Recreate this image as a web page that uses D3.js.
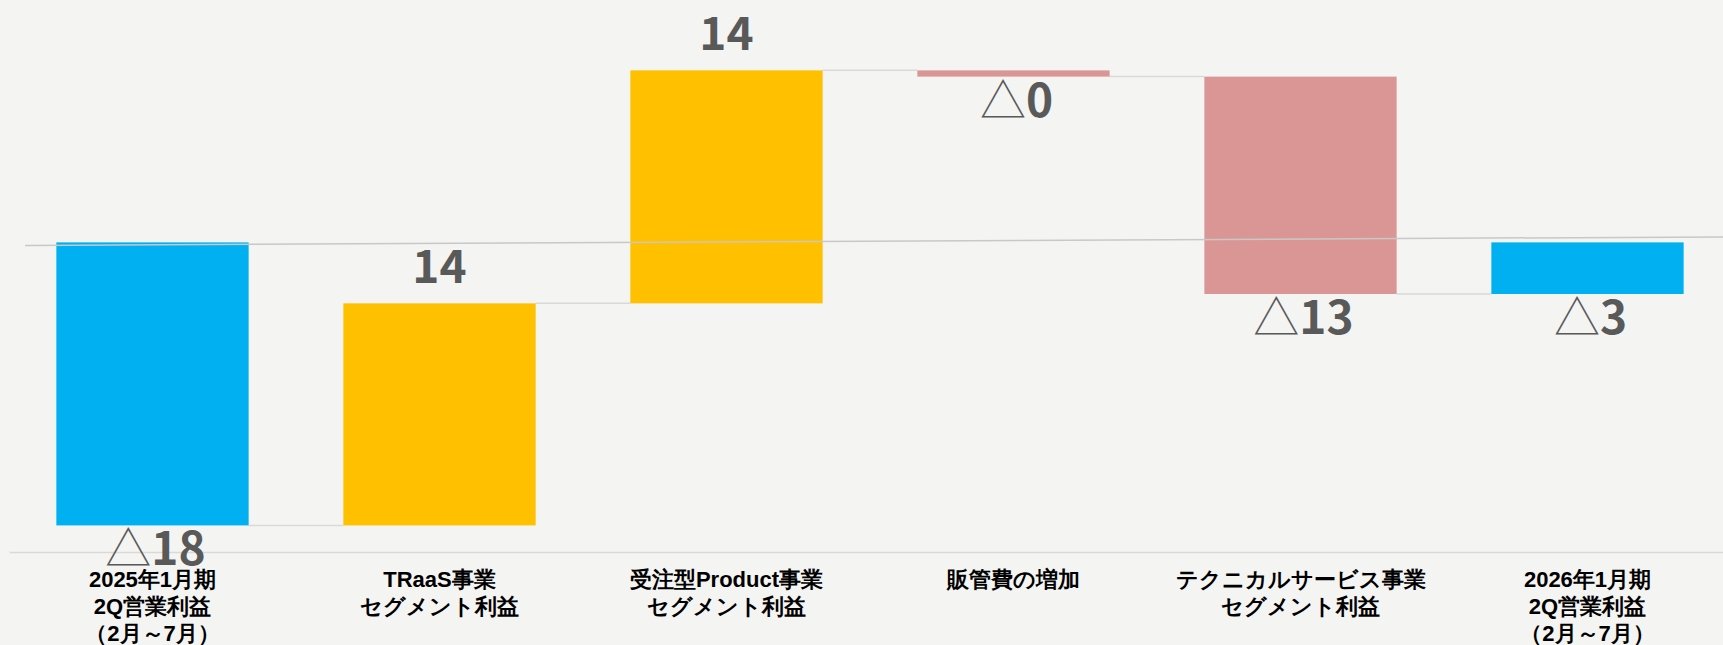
<!DOCTYPE html>
<html><head><meta charset="utf-8">
<script src="https://cdn.jsdelivr.net/npm/d3@7"></script>
<style>
html,body{margin:0;padding:0;background:#F4F4F2;}
svg{display:block;}
</style></head>
<body><div id="chart"></div>
<script>
// ---- data ----
const categories = [
  "2025年1月期\n2Q営業利益\n（2月～7月）",
  "TRaaS事業\nセグメント利益",
  "受注型Product事業\nセグメント利益",
  "販管費の増加",
  "テクニカルサービス事業\nセグメント利益",
  "2026年1月期\n2Q営業利益\n（2月～7月）"
];
const values = [-18.1, 14.2, 14.9, -0.4, -13.9, -3.3];
const kinds = ["total", "delta", "delta", "delta", "delta", "total"];
const valueLabels = ["△18", "14", "14", "△0", "△13", "△3"];

// ---- layout ----
const W = 1723, H = 645;
const colors = {total: "#00B0F0", up: "#FFC000", down: "#DA9694"};

const svg = d3.select("#chart").append("svg").attr("width", W).attr("height", H)
  .style("font-family", "'Noto Sans CJK JP','Noto Sans',sans-serif");
svg.append("rect").attr("width", W).attr("height", H).attr("fill", "#F4F4F2");

const x = d3.scaleBand().domain(categories).range([9, 1731]).paddingInner(0.33).paddingOuter(0.165);
const y = d3.scaleLinear().domain([-19.8, 15.5]).range([552, 0]);

// compute waterfall segments
let run = 0;
const bars = categories.map((c, i) => {
  let y0, y1;
  if (kinds[i] === "total") { y0 = 0; y1 = values[i]; run = values[i]; }
  else { y0 = run; y1 = run + values[i]; run = y1; }
  const color = kinds[i] === "total" ? colors.total : (values[i] >= 0 ? colors.up : colors.down);
  return {c, i, y0, y1, end: run, color, label: valueLabels[i], v: values[i]};
});

// connectors
const conn = svg.append("g");
bars.slice(0, -1).forEach((b, i) => {
  const nb = bars[i + 1];
  conn.append("line")
    .attr("x1", x(b.c) + x.bandwidth()).attr("x2", x(nb.c))
    .attr("y1", y(b.end)).attr("y2", y(b.end))
    .attr("stroke", "#D9D9D9").attr("stroke-width", 1.5);
});

// bars
svg.append("g").selectAll("rect").data(bars).join("rect")
  .attr("x", d => x(d.c))
  .attr("width", x.bandwidth())
  .attr("y", d => y(Math.max(d.y0, d.y1)))
  .attr("height", d => Math.abs(y(d.y0) - y(d.y1)))
  .attr("fill", d => d.color);

// slightly tilted zero reference line (drawn over bars)
svg.append("line")
  .attr("x1", 25).attr("x2", W)
  .attr("y1", y(0) + 3).attr("y2", y(0) - 5.5)
  .attr("stroke", "#C8C8C8").attr("stroke-width", 1.5);

// x axis
const ax = svg.append("g").attr("transform", `translate(0,${y(-19.8)})`)
  .call(d3.axisBottom(x).tickSize(0).tickFormat(""));
ax.select(".domain").attr("stroke", "#D9D9D9").attr("stroke-width", 1.5);
ax.selectAll(".tick text").remove();
ax.selectAll(".tick").each(function(d) {
  const t = d3.select(this).append("text")
    .attr("text-anchor", "middle").attr("fill", "#000")
    .attr("font-size", 22).attr("font-weight", 700);
  d.split("\n").forEach((line, k) => {
    t.append("tspan").attr("x", 0).attr("y", 35 + k * 27).text(line);
  });
});

// value labels
const lab = svg.append("g");
bars.forEach(b => {
  const neg = b.v < 0;
  const top = y(Math.max(b.y0, b.y1)), bottom = y(Math.min(b.y0, b.y1));
  const t = lab.append("text")
    .attr("x", x(b.c) + x.bandwidth() / 2 + (neg ? 3 : 0))
    .attr("y", neg ? bottom + 40 : top - 20)
    .attr("text-anchor", "middle").attr("fill", "#595959")
    .attr("font-size", 46).attr("font-weight", 700);
  if (b.label.startsWith("△")) {
    t.append("tspan").attr("font-weight", 300).text("△");
    t.append("tspan").text(b.label.slice(1));
  } else {
    t.text(b.label);
  }
});
</script></body></html>
